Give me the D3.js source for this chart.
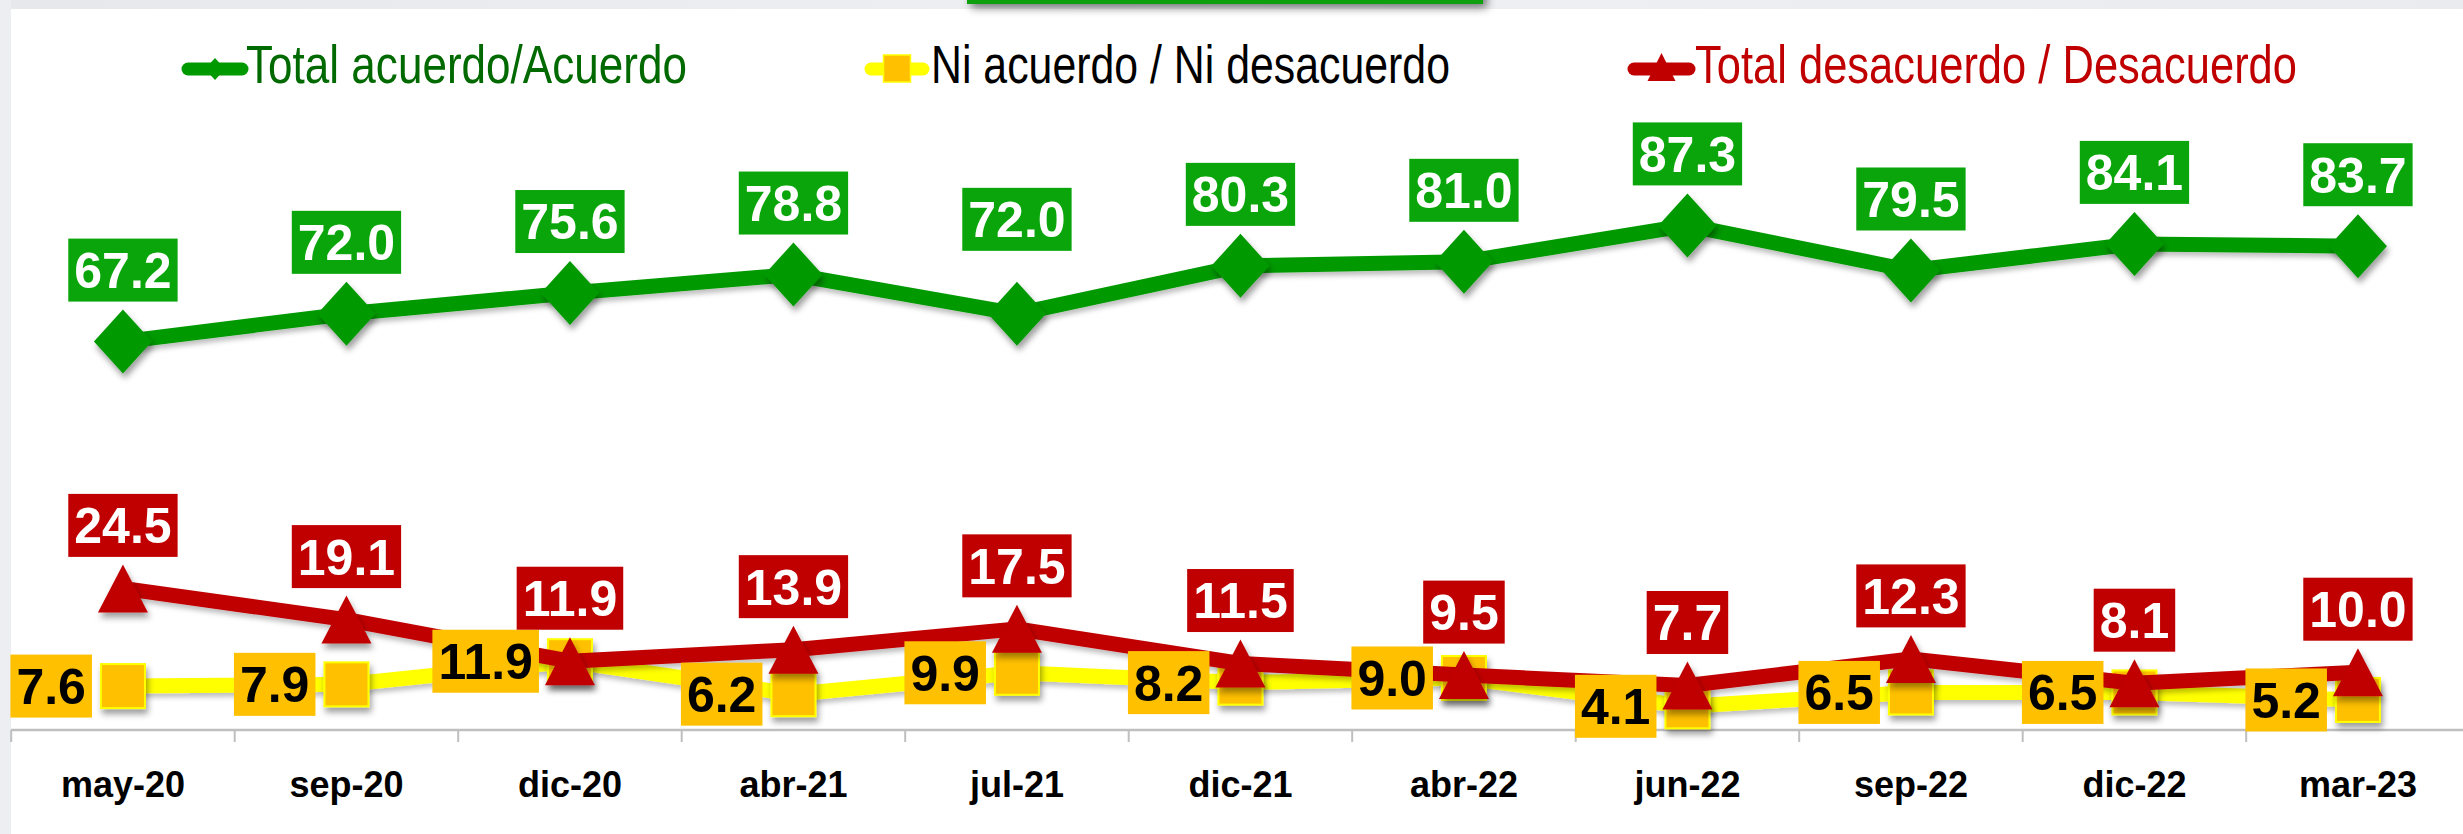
<!DOCTYPE html>
<html>
<head>
<meta charset="utf-8">
<script src="https://cdn.jsdelivr.net/npm/d3@7"></script>
<style>
  html, body { margin: 0; padding: 0; background: #ffffff; }
  svg { display: block; }
</style>
</head>
<body>
<svg id="chart" width="2463" height="834"></svg>
<script>
// ---------- DATA ----------
const categories = ["may-20","sep-20","dic-20","abr-21","jul-21","dic-21","abr-22","jun-22","sep-22","dic-22","mar-23"];
const acuerdo    = [67.2, 72.0, 75.6, 78.8, 72.0, 80.3, 81.0, 87.3, 79.5, 84.1, 83.7];
const niNi       = [7.6, 7.9, 11.9, 6.2, 9.9, 8.2, 9.0, 4.1, 6.5, 6.5, 5.2];
const desacuerdo = [24.5, 19.1, 11.9, 13.9, 17.5, 11.5, 9.5, 7.7, 12.3, 8.1, 10.0];
const seriesNames = ["Total acuerdo/Acuerdo", "Ni acuerdo / Ni desacuerdo", "Total desacuerdo / Desacuerdo"];

// ---------- SETUP ----------
const W = 2463, H = 834;
const svg = d3.select("#chart");

const defs = svg.append("defs");
defs.append("filter").attr("id","shMark").attr("filterUnits","userSpaceOnUse")
  .attr("x",0).attr("y",0).attr("width",W).attr("height",H)
  .append("feDropShadow").attr("dx",2).attr("dy",5).attr("stdDeviation",3)
  .attr("flood-color","#000").attr("flood-opacity",0.38);
defs.append("filter").attr("id","shLine").attr("filterUnits","userSpaceOnUse")
  .attr("x",0).attr("y",0).attr("width",W).attr("height",H)
  .append("feDropShadow").attr("dx",1).attr("dy",4).attr("stdDeviation",2.5)
  .attr("flood-color","#000").attr("flood-opacity",0.25);
defs.append("filter").attr("id","shBox").attr("filterUnits","userSpaceOnUse")
  .attr("x",0).attr("y",0).attr("width",W).attr("height",H)
  .append("feDropShadow").attr("dx",4).attr("dy",4).attr("stdDeviation",4)
  .attr("flood-color","#000").attr("flood-opacity",0.5);
const grad = defs.append("linearGradient").attr("id","topBand").attr("x1",0).attr("x2",1).attr("y1",0).attr("y2",0);
grad.append("stop").attr("offset","0%").attr("stop-color","#e6e8eb");
grad.append("stop").attr("offset","50%").attr("stop-color","#eef0f3");
grad.append("stop").attr("offset","100%").attr("stop-color","#e9ebee");

// background decorations
svg.append("rect").attr("x",0).attr("y",0).attr("width",W).attr("height",H).attr("fill","#ffffff");
svg.append("rect").attr("x",0).attr("y",0).attr("width",W).attr("height",9).attr("fill","url(#topBand)");
svg.append("rect").attr("x",0).attr("y",0).attr("width",11).attr("height",H).attr("fill","#eceef1");
svg.append("rect").attr("x",967).attr("y",-30).attr("width",516).attr("height",34)
  .attr("fill","#0a9f0a").attr("filter","url(#shBox)");

// ---------- SCALES ----------
const x = d3.scaleBand().domain(categories).range([11.2, 2469.7]).padding(0);
const cx = c => x(c) + x.bandwidth() / 2;
const y = d3.scaleLinear().domain([0, 100]).range([730, 152]);

// ---------- AXIS ----------
const axisY = y(0);
const axis = svg.append("g").attr("transform", `translate(0,${axisY})`)
  .call(d3.axisBottom(x).tickSize(0).tickPadding(0));
axis.select(".domain").remove();
axis.selectAll("text")
  .attr("y", 67).attr("dy", 0)
  .attr("font-family", "'Liberation Sans', Arial, sans-serif")
  .attr("font-size", 36).attr("font-weight", "bold").attr("fill", "#000");
svg.append("line").attr("x1", 11).attr("x2", W).attr("y1", axisY).attr("y2", axisY)
  .attr("stroke", "#bfbfbf").attr("stroke-width", 2.5);
const edges = categories.map(c => x(c)).concat([x.range()[1]]);
svg.append("g").selectAll("line").data(edges).join("line")
  .attr("x1", d => d).attr("x2", d => d).attr("y1", axisY).attr("y2", axisY + 12)
  .attr("stroke", "#bfbfbf").attr("stroke-width", 2);

// ---------- SERIES ----------
const line = d3.line().x(d => cx(d.c)).y(d => y(d.v)).curve(d3.curveLinear);
const toPts = arr => categories.map((c, i) => ({c, v: arr[i]}));

const GREEN = "#009900", GREEN_BOX = "#0aa50a", YEL_LINE = "#ffff00", ORANGE = "#ffc000", RED = "#c00000";

function diamondPath(px, py, hw, hh) { return `M${px},${py-hh}L${px+hw},${py}L${px},${py+hh}L${px-hw},${py}Z`; }
function trianglePath(px, py, hw, hh) { return `M${px},${py-hh}L${px+hw},${py+hh}L${px-hw},${py+hh}Z`; }

// green
svg.append("path").datum(toPts(acuerdo)).attr("d", line).attr("fill","none")
  .attr("stroke", GREEN).attr("stroke-width", 15).attr("stroke-linejoin","round").attr("filter","url(#shLine)");
svg.append("g").attr("filter","url(#shMark)").selectAll("path").data(toPts(acuerdo)).join("path")
  .attr("d", d => diamondPath(cx(d.c), y(d.v), 29, 32)).attr("fill", GREEN);

// yellow
svg.append("path").datum(toPts(niNi)).attr("d", line).attr("fill","none")
  .attr("stroke", YEL_LINE).attr("stroke-width", 15).attr("stroke-linejoin","round").attr("filter","url(#shLine)");
svg.append("g").attr("filter","url(#shMark)").selectAll("rect").data(toPts(niNi)).join("rect")
  .attr("x", d => cx(d.c) - 22).attr("y", d => y(d.v) - 22).attr("width", 44).attr("height", 44)
  .attr("fill", ORANGE).attr("stroke", YEL_LINE).attr("stroke-width", 2);

// red
svg.append("path").datum(toPts(desacuerdo)).attr("d", line).attr("fill","none")
  .attr("stroke", RED).attr("stroke-width", 15).attr("stroke-linejoin","round").attr("filter","url(#shLine)");
svg.append("g").attr("filter","url(#shMark)").selectAll("path").data(toPts(desacuerdo)).join("path")
  .attr("d", d => trianglePath(cx(d.c), y(d.v), 25, 24)).attr("fill", RED);

// ---------- DATA LABELS ----------
const labelFont = "'Liberation Sans', Arial, sans-serif";
const BOX_H = 63;
function addLabels(arr, boxFill, textFill, placer) {
  const g = svg.append("g");
  toPts(arr).forEach((d, i) => {
    const px = cx(d.c), py = y(d.v);
    const lg = g.append("g");
    const rect = lg.append("rect");
    const t = lg.append("text").text(d.v.toFixed(1))
      .attr("font-family", labelFont).attr("font-size", 50).attr("font-weight", "bold")
      .attr("fill", textFill).attr("text-anchor", "middle");
    const w = t.node().getComputedTextLength() + 12;
    const p = placer(px, py, w, i);
    rect.attr("x", p.cx - w / 2).attr("y", p.cy - BOX_H / 2).attr("width", w).attr("height", BOX_H).attr("fill", boxFill);
    t.attr("x", p.cx).attr("y", p.cy + 17.9);
  });
}
// a manually nudged label in the original (jul-21 green label sits higher)
const greenNudge = {4: -23};
addLabels(acuerdo, GREEN_BOX, "#ffffff", (px, py, w, i) => ({cx: px, cy: py - 40 - BOX_H / 2 + (greenNudge[i] || 0)}));
addLabels(niNi, ORANGE, "#000000", (px, py, w) => ({cx: px - 31 - w / 2, cy: py}));
addLabels(desacuerdo, RED, "#ffffff", (px, py, w) => ({cx: px, cy: py - 31.5 - BOX_H / 2}));

// ---------- LEGEND ----------
const legendFont = "'Liberation Sans Narrow', 'Liberation Sans', Arial, sans-serif";
const legend = svg.append("g");
const legendItems = [
  {name: seriesNames[0], x0: 188, x1: 242, tx: 246, tw: 441, color: "#006a00", line: GREEN},
  {name: seriesNames[1], x0: 871, x1: 923, tx: 931, tw: 519, color: "#000000", line: YEL_LINE},
  {name: seriesNames[2], x0: 1634, x1: 1689, tx: 1695, tw: 602, color: RED, line: RED}
];
const LY = 69;
legendItems.forEach((it, k) => {
  legend.append("line").attr("x1", it.x0).attr("x2", it.x1).attr("y1", LY).attr("y2", LY)
    .attr("stroke", it.line).attr("stroke-width", 13).attr("stroke-linecap", "round");
  const mx = (it.x0 + it.x1) / 2;
  if (k === 0) legend.append("path").attr("d", diamondPath(mx, LY, 10, 11)).attr("fill", GREEN);
  if (k === 1) legend.append("rect").attr("x", mx - 13.5).attr("y", LY - 14).attr("width", 27).attr("height", 27)
    .attr("fill", ORANGE).attr("stroke", YEL_LINE).attr("stroke-width", 1.5);
  if (k === 2) legend.append("path").attr("d", trianglePath(mx, LY - 2, 14, 14)).attr("fill", RED);
  legend.append("text").text(it.name).attr("x", it.tx).attr("y", 83)
    .attr("font-family", legendFont).attr("font-size", 53).attr("fill", it.color)
    .attr("textLength", it.tw).attr("lengthAdjust", "spacingAndGlyphs");
});
</script>
</body>
</html>
